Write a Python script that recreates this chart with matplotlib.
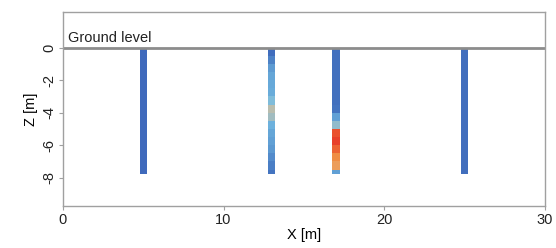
import matplotlib
matplotlib.use("Agg")
import matplotlib.pyplot as plt
import numpy as np
from matplotlib.colors import LinearSegmentedColormap

plt.rcParams['font.family'] = ['Liberation Sans', 'DejaVu Sans']

# borehole positions along the profile
borehole_x = [5, 13, 17, 25]

# cell boundaries down each borehole (m)
cell_top = [0.0, -0.5, -1.0, -1.5, -2.0, -2.5, -3.0, -3.5, -4.0, -4.5, -5.0, -5.5, -6.0, -6.5, -7.0, -7.5]
cell_bottom = [-0.5, -1.0, -1.5, -2.0, -2.5, -3.0, -3.5, -4.0, -4.5, -5.0, -5.5, -6.0, -6.5, -7.0, -7.5, -7.8]

# normalised values per cell (0 = blue, 1 = red)
values_x5 = [0.05, 0.05, 0.05, 0.05, 0.05, 0.05, 0.05, 0.05, 0.05, 0.05, 0.05, 0.05, 0.05, 0.05, 0.05, 0.05]
values_x13 = [0.06, 0.18, 0.28, 0.32, 0.33, 0.34, 0.42, 0.52, 0.48, 0.36, 0.32, 0.3, 0.27, 0.22, 0.16, 0.1]
values_x17 = [0.08, 0.08, 0.08, 0.08, 0.08, 0.08, 0.08, 0.1, 0.3, 0.45, 0.95, 1.0, 0.9, 0.78, 0.72, 0.3]
values_x25 = [0.07, 0.07, 0.07, 0.07, 0.07, 0.07, 0.07, 0.07, 0.07, 0.07, 0.07, 0.07, 0.07, 0.07, 0.07, 0.07]

cmap = LinearSegmentedColormap.from_list(
    "bore", ["#3a62b8", "#4f86c8", "#74bce2", "#e6bd8c", "#f0883c", "#e8402a"])

fig = plt.figure(figsize=(5.56, 2.48), dpi=100)
ax = fig.add_axes([0.113, 0.169, 0.867, 0.783])

bar_w = 0.45
for xpos, vals in zip(borehole_x, [values_x5, values_x13, values_x17, values_x25]):
    for top, bot, v in zip(cell_top, cell_bottom, vals):
        ax.bar(xpos, top - bot, bottom=bot, width=bar_w, color=cmap(v),
               edgecolor='none', linewidth=0)

# ground level
ax.axhline(0, color='#8c8c8c', linewidth=2)
ax.text(0.3, 0.15, "Ground level", fontsize=10.5, color='#222222', va='bottom', ha='left')

ax.set_xlim(0, 30)
ax.set_ylim(-9.75, 2.2)
ax.set_xticks([0, 10, 20, 30])
ax.set_yticks([0, -2, -4, -6, -8])
ax.set_yticklabels(['0', '-2', '-4', '-6', '-8'], rotation=90, va='center')
ax.set_xlabel('X [m]', fontsize=10.5, labelpad=1)
ax.set_ylabel('Z [m]', fontsize=10.5, labelpad=3)

for s in ax.spines.values():
    s.set_color('#a0a0a0')
    s.set_linewidth(1)
ax.tick_params(colors='#a0a0a0', labelcolor='#222222', labelsize=10.5, length=3, pad=2)

fig.savefig("out.png", dpi=100)
